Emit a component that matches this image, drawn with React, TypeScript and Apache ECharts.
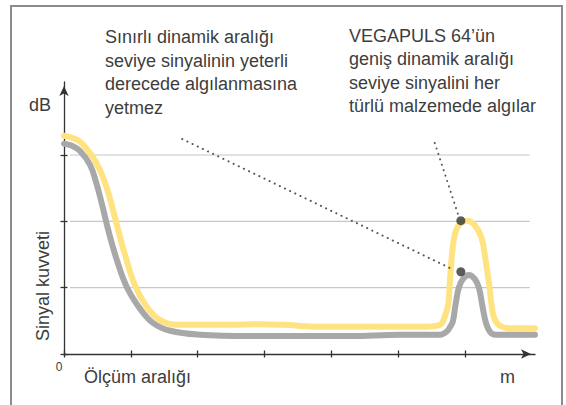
import React, { useEffect, useRef } from "react";
import * as echarts from "echarts";

// Chart data (x: measuring range units, y: signal strength units)
const xTicks = [0, 1, 2, 3, 4, 5, 6];
const yTicks = [0, 1, 2, 3];
const gridLevels = [1, 2, 3];
const gridSpan = [0.09, 6.97];

const vegapulsX = [0, 0.12, 0.24, 0.41, 0.54, 0.66, 0.78, 0.9, 1.06, 1.24, 1.44, 1.69, 2.04, 2.48, 2.93, 3.28, 3.83, 4.28, 5.03, 5.4, 5.63, 5.69, 5.75, 5.77, 5.8, 5.84, 5.9, 6.03, 6.15, 6.25, 6.31, 6.37, 6.4, 6.44, 6.52, 6.67, 7.05];
const vegapulsY = [3.29, 3.26, 3.2, 3.0, 2.77, 2.44, 1.99, 1.54, 1.04, 0.71, 0.51, 0.44, 0.44, 0.44, 0.45, 0.44, 0.41, 0.41, 0.41, 0.41, 0.44, 0.54, 0.74, 1.0, 1.42, 1.75, 1.93, 2.01, 1.94, 1.75, 1.42, 1.0, 0.74, 0.54, 0.43, 0.39, 0.39];

const limitedX = [0, 0.12, 0.24, 0.39, 0.48, 0.57, 0.67, 0.79, 0.94, 1.14, 1.33, 1.59, 2.04, 2.78, 3.53, 4.28, 5.03, 5.48, 5.63, 5.73, 5.78, 5.82, 5.86, 5.91, 5.97, 6.06, 6.15, 6.21, 6.26, 6.31, 6.35, 6.4, 6.48, 7.05];
const limitedY = [3.17, 3.14, 3.06, 2.85, 2.59, 2.25, 1.84, 1.42, 1.01, 0.68, 0.47, 0.35, 0.29, 0.27, 0.27, 0.27, 0.29, 0.29, 0.29, 0.34, 0.41, 0.49, 0.74, 1.0, 1.13, 1.19, 1.13, 1.0, 0.74, 0.49, 0.38, 0.31, 0.29, 0.29];

const peakDots = [[5.94, 2.01], [5.94, 1.24]];
const pointer1 = [[1.77, 3.24], [5.81, 1.28]];
const pointer2 = [[5.55, 3.18], [5.9, 2.1]];

const noteLeft = ["Sınırlı dinamik aralığı", "seviye sinyalinin yeterli", "derecede algılanmasına", "yetmez"];
const noteRight = ["VEGAPULS 64’ün", "geniş dinamik aralığı", "seviye sinyalini her", "türlü malzemede algılar"];
const yAxisName = "dB";
const yAxisTitle = "Sinyal kuvveti";
const xAxisTitle = "Ölçüm aralığı";
const xAxisUnit = "m";
const originLabel = "0";

const zip = (xs: number[], ys: number[]) => xs.map((x, i) => [x, ys[i]]);

const FONT = "'Liberation Sans', Arial, Helvetica, sans-serif";
const TXT = "#3d3d3d";
const AX = "#333333";

export default function App() {
  const ref = useRef<HTMLDivElement>(null);
  useEffect(() => {
    if (!ref.current) return;
    const chart = echarts.init(ref.current, undefined, { renderer: "svg" });
    const axisCommon = {
      type: "value" as const,
      axisLabel: { show: false },
      splitLine: { show: false },
    };
    const noteTexts = (lines: string[], x: number, ys: number[]) =>
      lines.map((t, i) => ({
        type: "text",
        x,
        y: ys[i],
        style: { text: t, fill: TXT, font: `18px ${FONT}`, align: "left", verticalAlign: "middle" },
      }));
    const option: any = {
      animation: false,
      grid: { left: 64, right: 31, top: 82, bottom: 51 },
      xAxis: [
        {
          ...axisCommon,
          min: 0,
          max: 7.05,
          position: "bottom",
          axisLine: { show: true, symbol: ["none", "arrow"], symbolSize: [7, 10], symbolOffset: [0, -4], lineStyle: { color: AX, width: 1.3 } },
          axisTick: { show: true, customValues: xTicks, length: 3.5, lineStyle: { color: AX, width: 1.3 } },
        },
        {
          ...axisCommon,
          min: 0,
          max: 7.05,
          position: "bottom",
          axisLine: { show: false },
          axisTick: { show: true, inside: true, customValues: xTicks, length: 3.5, lineStyle: { color: AX, width: 1.3 } },
        },
      ],
      yAxis: [
        {
          ...axisCommon,
          min: 0,
          max: 4.1,
          position: "left",
          axisLine: { show: true, symbol: ["none", "arrow"], symbolSize: [7, 10], symbolOffset: [0, -4], lineStyle: { color: AX, width: 1.3 } },
          axisTick: { show: true, customValues: yTicks, length: 3.5, lineStyle: { color: AX, width: 1.3 } },
        },
        {
          ...axisCommon,
          min: 0,
          max: 4.1,
          position: "left",
          axisLine: { show: false },
          axisTick: { show: true, inside: true, customValues: yTicks, length: 3.5, lineStyle: { color: AX, width: 1.3 } },
        },
      ],
      series: [
        ...gridLevels.map((v) => ({
          type: "line",
          silent: true,
          z: 1,
          showSymbol: false,
          symbol: "none",
          data: [[gridSpan[0], v], [gridSpan[1], v]],
          lineStyle: { color: "#c6c6c6", width: 1.2 },
        })),
        {
          type: "line",
          z: 2,
          smooth: 0.4,
          symbol: "none",
          data: zip(vegapulsX, vegapulsY),
          lineStyle: { color: "#FFE381", width: 6, join: "round", cap: "round" },
        },
        {
          type: "line",
          z: 3,
          smooth: 0.4,
          symbol: "none",
          data: zip(limitedX, limitedY),
          lineStyle: { color: "#A8A8A8", width: 6, join: "round", cap: "round" },
        },
        ...[pointer1, pointer2].map((d) => ({
          type: "line",
          z: 4,
          symbol: "none",
          data: d,
          lineStyle: { color: "#555", width: 2, type: [0.1, 5.6], cap: "round" },
        })),
        {
          type: "scatter",
          z: 5,
          symbolSize: 9,
          data: peakDots,
          itemStyle: { color: "#333" },
        },
      ],
      graphic: [
        {
          type: "rect",
          silent: true,
          shape: { x: 11, y: 6, width: 551, height: 430 },
          style: { fill: "none", stroke: "#8c8c8c", lineWidth: 2 },
        },
        ...noteTexts(noteLeft, 105, [36.7, 60.7, 84.2, 107.7]),
        ...noteTexts(noteRight, 349, [35.5, 59, 82.5, 106]),
        { type: "text", x: 29, y: 104.7, style: { text: yAxisName, fill: TXT, font: `18px ${FONT}`, align: "left", verticalAlign: "middle" } },
        { type: "text", x: 43, y: 286, rotation: Math.PI / 2, style: { text: yAxisTitle, fill: TXT, font: `18px ${FONT}`, align: "center", verticalAlign: "middle" } },
        { type: "text", x: 59, y: 367, style: { text: originLabel, fill: TXT, font: `12px ${FONT}`, align: "center", verticalAlign: "middle" } },
        { type: "text", x: 84, y: 376.7, style: { text: xAxisTitle, fill: TXT, font: `18px ${FONT}`, align: "left", verticalAlign: "middle" } },
        { type: "text", x: 507.5, y: 376.7, style: { text: xAxisUnit, fill: TXT, font: `18px ${FONT}`, align: "center", verticalAlign: "middle" } },
      ],
    };
    chart.setOption(option);
    return () => chart.dispose();
  }, []);
  return (
    <div
      ref={ref}
      style={{ position: "absolute", left: 0, top: 0, width: 566, height: 405, background: "#fff" }}
    />
  );
}
